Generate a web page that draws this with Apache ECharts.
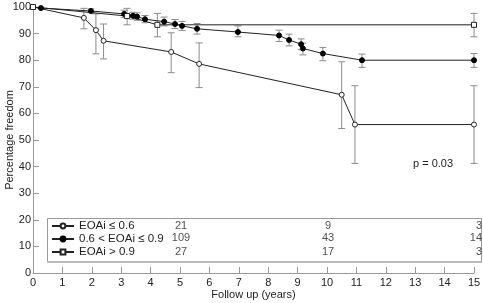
<!DOCTYPE html>
<html>
<head>
<meta charset="utf-8">
<script src="https://cdn.jsdelivr.net/npm/echarts@6/dist/echarts.min.js"></script>
<style>
  html, body { margin: 0; padding: 0; background: #fff; }
  #chart { width: 483px; height: 303px; }
</style>
</head>
<body>
<div id="chart"></div>
<script>
// groups
var groupNames = ["EOAi \u2264 0.6", "0.6 < EOAi \u2264 0.9", "EOAi > 0.9"];

// EOAi <= 0.6 : [years, % freedom]
var lowYears = [0, 1.73, 2.14, 2.4, 4.7, 5.65, 10.5, 10.95, 15];
var lowValues = [100, 95.9, 91.3, 87.3, 83.1, 78.6, 67.0, 55.8, 55.8];
var lowUpper = [null, 99.5, 97.4, 93.6, 90.3, 86.5, 79.4, 70.4, 70.4];
var lowLower = [null, 91.8, 82.4, 80.5, 75.3, 69.7, 54.3, 41.2, 41.2];

// 0.6 < EOAi <= 0.9
var midYears = [0, 0.27, 1.97, 3.1, 3.4, 3.54, 3.81, 4.46, 4.83, 5.07, 5.58, 6.97, 8.37, 8.71, 9.12, 9.18, 9.86, 11.19, 15];
var midValues = [100, 99.6, 98.5, 97.4, 96.7, 96.4, 95.4, 94.5, 93.6, 92.9, 91.8, 90.6, 89.3, 87.6, 86.0, 84.4, 82.5, 80.0, 80.0];
var midUpper = [null, null, 99.3, 98.8, 98.0, 97.8, 96.8, 96.2, 95.3, 94.6, 93.8, 92.9, 91.3, 89.8, 88.0, 86.4, 84.8, 82.3, 82.5];
var midLower = [null, null, 97.9, 96.0, 95.4, 95.0, 94.1, 92.9, 91.9, 91.2, 89.8, 88.8, 87.0, 85.4, 84.0, 82.0, 79.8, 77.3, 77.3];

// EOAi > 0.9
var highYears = [0, 3.2, 4.23, 15];
var highValues = [100, 96.6, 93.3, 93.3];
var highUpper = [null, 99.5, 97.6, 97.6];
var highLower = [null, 93.3, 88.8, 88.8];

// numbers at risk
var riskYears = [5, 10, 15];
var lowRisk = [21, 9, 3];
var midRisk = [109, 43, 14];
var highRisk = [27, 17, 3];

var xTicks = [0, 1, 2, 3, 4, 5, 6, 7, 8, 9, 10, 11, 12, 13, 14, 15];
var yTicks = [0, 10, 20, 30, 40, 50, 60, 70, 80, 90, 100];
var pText = "p = 0.03";

var font = "'Liberation Sans', Arial, sans-serif";

function pairs(xs, ys) {
  return xs.map(function (x, i) { return [x, ys[i]]; });
}
function bars(xs, up, lo) {
  var out = [];
  xs.forEach(function (x, i) {
    if (up[i] != null) out.push([x, up[i], lo[i]]);
  });
  return out;
}

function errorBar(params, api) {
  var x = api.value(0);
  var top = api.coord([x, api.value(1)]);
  var bot = api.coord([x, api.value(2)]);
  var w = 3.5;
  var st = { stroke: "#8c8c8c", lineWidth: 1 };
  return {
    type: "group",
    children: [
      { type: "line", shape: { x1: top[0], y1: top[1], x2: bot[0], y2: bot[1] }, style: st },
      { type: "line", shape: { x1: top[0] - w, y1: top[1], x2: top[0] + w, y2: top[1] }, style: st },
      { type: "line", shape: { x1: bot[0] - w, y1: bot[1], x2: bot[0] + w, y2: bot[1] }, style: st },
    ],
  };
}

// row heights of the at-risk table, in axis units
var riskRows = [17.7, 13.0, 8.0];
function riskSeries(vals, row) {
  return {
    type: "scatter",
    symbolSize: 0,
    silent: true,
    z: 10,
    data: riskYears.map(function (y, i) {
      var last = i === riskYears.length - 1;
      return {
        value: [y, riskRows[row]],
        label: last ? { align: "right", offset: [8, 0] } : { align: "center", offset: [1, 0] },
      };
    }),
    label: {
      show: true,
      position: "inside",
      fontFamily: font,
      fontSize: 11,
      color: "#222",
      formatter: function (p) { return vals[p.dataIndex]; },
    },
  };
}

var myChart = echarts.init(document.getElementById("chart"));
var option = {
  animation: false,
  backgroundColor: "#fff",
  grid: { left: 33, right: 9, top: 7, bottom: 30, outerBoundsMode: "none", containLabel: false },
  xAxis: {
    type: "value",
    min: 0,
    max: 15,
    interval: 1,
    name: "Follow up (years)",
    nameLocation: "middle",
    nameGap: 16,
    nameMoveOverlap: false,
    nameTextStyle: { fontFamily: font, fontSize: 11, color: "#222" },
    axisLine: { lineStyle: { color: "#999" } },
    axisTick: { inside: true, length: 6, lineStyle: { color: "#999" } },
    axisLabel: { fontFamily: font, fontSize: 11, color: "#222", margin: 4 },
    splitLine: { show: false },
  },
  yAxis: {
    type: "value",
    min: 0,
    max: 100,
    interval: 10,
    name: "Percentage freedom",
    nameLocation: "middle",
    nameGap: 18,
    nameMoveOverlap: false,
    nameTextStyle: { fontFamily: font, fontSize: 11, color: "#222" },
    axisLine: { show: true, lineStyle: { color: "#999" } },
    axisTick: { show: true, inside: true, length: 6, lineStyle: { color: "#999" } },
    axisLabel: { fontFamily: font, fontSize: 11, color: "#222", margin: 2 },
    splitLine: { show: false },
  },
  legend: {
    data: groupNames,
    orient: "vertical",
    left: 51,
    top: 219.5,
    padding: 0,
    itemWidth: 22,
    itemHeight: 6,
    itemGap: 0,
    textStyle: { fontFamily: font, fontSize: 11.5, color: "#222", lineHeight: 13 },
  },
  graphic: [
    {
      type: "rect",
      z: 3,
      shape: { x: 47.5, y: 218.5, width: 434, height: 43 },
      style: { fill: "#fff", stroke: "#999", lineWidth: 1 },
    },
    {
      type: "line",
      z: 3,
      shape: { x1: 47, y1: 262, x2: 482, y2: 262 },
      style: { stroke: "#bbb", lineWidth: 2 },
    },
    {
      type: "text",
      z: 3,
      left: 413,
      top: 158,
      style: { text: pText, font: "11px " + font, fill: "#222" },
    },
  ],
  series: [
    { type: "custom", renderItem: errorBar, data: bars(lowYears, lowUpper, lowLower), z: 1, silent: true },
    { type: "custom", renderItem: errorBar, data: bars(midYears, midUpper, midLower), z: 1, silent: true },
    { type: "custom", renderItem: errorBar, data: bars(highYears, highUpper, highLower), z: 1, silent: true },
    {
      name: groupNames[0],
      type: "line",
      z: 2,
      data: pairs(lowYears, lowValues),
      symbol: "circle",
      symbolSize: 5,
      showAllSymbol: true,
      lineStyle: { color: "#222", width: 1 },
      itemStyle: { color: "#fff", borderColor: "#222", borderWidth: 1 },
    },
    {
      name: groupNames[1],
      type: "line",
      z: 2,
      data: pairs(midYears, midValues),
      symbol: "circle",
      symbolSize: 5,
      showAllSymbol: true,
      lineStyle: { color: "#222", width: 1 },
      itemStyle: { color: "#000", borderColor: "#000", borderWidth: 1 },
    },
    {
      name: groupNames[2],
      type: "line",
      z: 2,
      data: pairs(highYears, highValues),
      symbol: "rect",
      symbolSize: 5,
      showAllSymbol: true,
      lineStyle: { color: "#222", width: 1 },
      itemStyle: { color: "#fff", borderColor: "#222", borderWidth: 1 },
    },
    riskSeries(lowRisk, 0),
    riskSeries(midRisk, 1),
    riskSeries(highRisk, 2),
  ],
};
myChart.setOption(option);
window.onresize = function () {
  myChart.resize();
};
</script>
</body>
</html>
